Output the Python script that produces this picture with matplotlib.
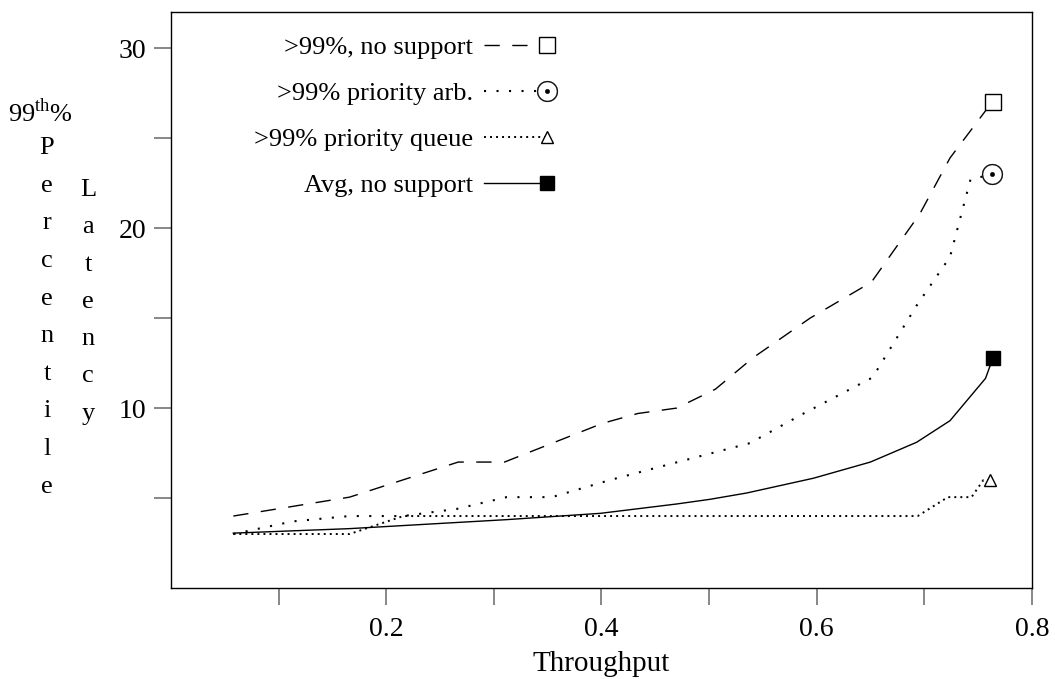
import numpy as np
import matplotlib
matplotlib.use("Agg")
import matplotlib.pyplot as plt
from matplotlib.legend_handler import HandlerLine2DCompound

plt.rcParams['font.family'] = ['Liberation Serif', 'DejaVu Serif']
plt.rcParams['mathtext.fontset'] = 'custom'
plt.rcParams['mathtext.rm'] = 'Liberation Serif'

# data
nosup_x = [0.058, 0.166, 0.267, 0.310, 0.401, 0.434, 0.470, 0.506, 0.541, 0.594, 0.651, 0.696, 0.724, 0.758, 0.764]
nosup_y = [4.0, 5.05, 7.0, 7.0, 9.15, 9.7, 10.0, 11.05, 12.8, 15.0, 17.0, 20.8, 23.9, 26.6, 27.0]

arb_x = [0.058, 0.113, 0.166, 0.216, 0.266, 0.312, 0.354, 0.408, 0.471, 0.538, 0.588, 0.652, 0.693, 0.724, 0.743, 0.763]
arb_y = [3.0, 3.7, 4.0, 4.0, 4.4, 5.05, 5.05, 6.0, 7.0, 8.05, 9.7, 11.7, 15.7, 18.4, 22.7, 23.0]

queue_x = [0.058, 0.166, 0.216, 0.694, 0.722, 0.744, 0.755, 0.761]
queue_y = [3.0, 3.0, 4.0, 4.0, 5.05, 5.05, 6.0, 6.0]

avg_x = [0.058, 0.166, 0.312, 0.399, 0.470, 0.501, 0.535, 0.597, 0.650, 0.693, 0.724, 0.757, 0.764]
avg_y = [3.05, 3.3, 3.8, 4.15, 4.67, 4.93, 5.28, 6.1, 7.0, 8.1, 9.3, 11.65, 12.8]

labels = [">99%, no support", ">99% priority arb.", ">99% priority queue", "Avg, no support"]


class EndMarker(HandlerLine2DCompound):
    # marker at the right end of the legend line, like the original
    def get_xdata(self, legend, xdescent, ydescent, width, height, fontsize):
        return [-xdescent, -xdescent + width], [-xdescent + width]


fig = plt.figure(figsize=(10.55, 6.79), dpi=100)
ax = fig.add_axes([0.162, 0.134, 0.816, 0.848])

l1, = ax.plot(nosup_x, nosup_y, color='black', lw=1.0, linestyle=(0, (11, 9)),
              marker='s', markevery=[-1], markersize=11, markerfacecolor='white',
              markeredgecolor='black', markeredgewidth=1.0)
l2, = ax.plot(arb_x, arb_y, color='black', lw=1.5, linestyle=(0, (1, 5)),
              marker=r'$\odot$', markevery=[-1], markersize=15, markeredgewidth=0.3)
l3, = ax.plot(queue_x, queue_y, color='black', lw=1.4, linestyle=(0, (1, 2.1)),
              marker='^', markevery=[-1], markersize=9, markerfacecolor='white',
              markeredgecolor='black', markeredgewidth=1.0)
l4, = ax.plot(avg_x, avg_y, color='black', lw=1.0, linestyle='-',
              marker='s', markevery=[-1], markersize=10, markerfacecolor='black',
              markeredgecolor='black')

ax.set_xlim(0, 0.8)
ax.set_ylim(0, 32)
ax.set_xticks([0.2, 0.4, 0.6, 0.8])
ax.set_xticklabels(['0.2', '0.4', '0.6', '0.8'])
ax.set_xticks([0.1, 0.3, 0.5, 0.7], minor=True)
ax.set_yticks([10, 20, 30])
ax.set_yticks([5, 15, 25], minor=True)

ax.tick_params(axis='both', which='both', direction='out', length=12, width=1.2,
               color='0.45', labelsize=20, top=False, right=False)
ax.tick_params(axis='y', which='both', pad=6)
ax.tick_params(axis='x', which='both', pad=9)
for s in ax.spines.values():
    s.set_linewidth(1.0)

ax.set_xlabel('Throughput', fontsize=21, labelpad=6)

# stacked y label
fig.text(40 / 1055, 1 - 113 / 679, '99$^{\\rm th}$%', fontsize=19, ha='center', va='center')
fig.text(47 / 1055, 1 - 137 / 679, 'P\ne\nr\nc\ne\nn\nt\ni\nl\ne', fontsize=19,
         ha='center', va='top', multialignment='center', linespacing=1.92)
fig.text(88 / 1055, 1 - 179 / 679, 'L\na\nt\ne\nn\nc\ny', fontsize=19,
         ha='center', va='top', multialignment='center', linespacing=1.9)

leg = ax.legend([l1, l2, l3, l4], labels, loc='upper right', bbox_to_anchor=(0.437, 0.959),
                frameon=False, markerfirst=False, numpoints=2, fontsize=19,
                handlelength=2.4, handletextpad=0.42, labelspacing=0.85,
                borderpad=0, borderaxespad=0,
                handler_map={l: EndMarker() for l in [l1, l2, l3, l4]})

fig.savefig('out.png', dpi=100)
